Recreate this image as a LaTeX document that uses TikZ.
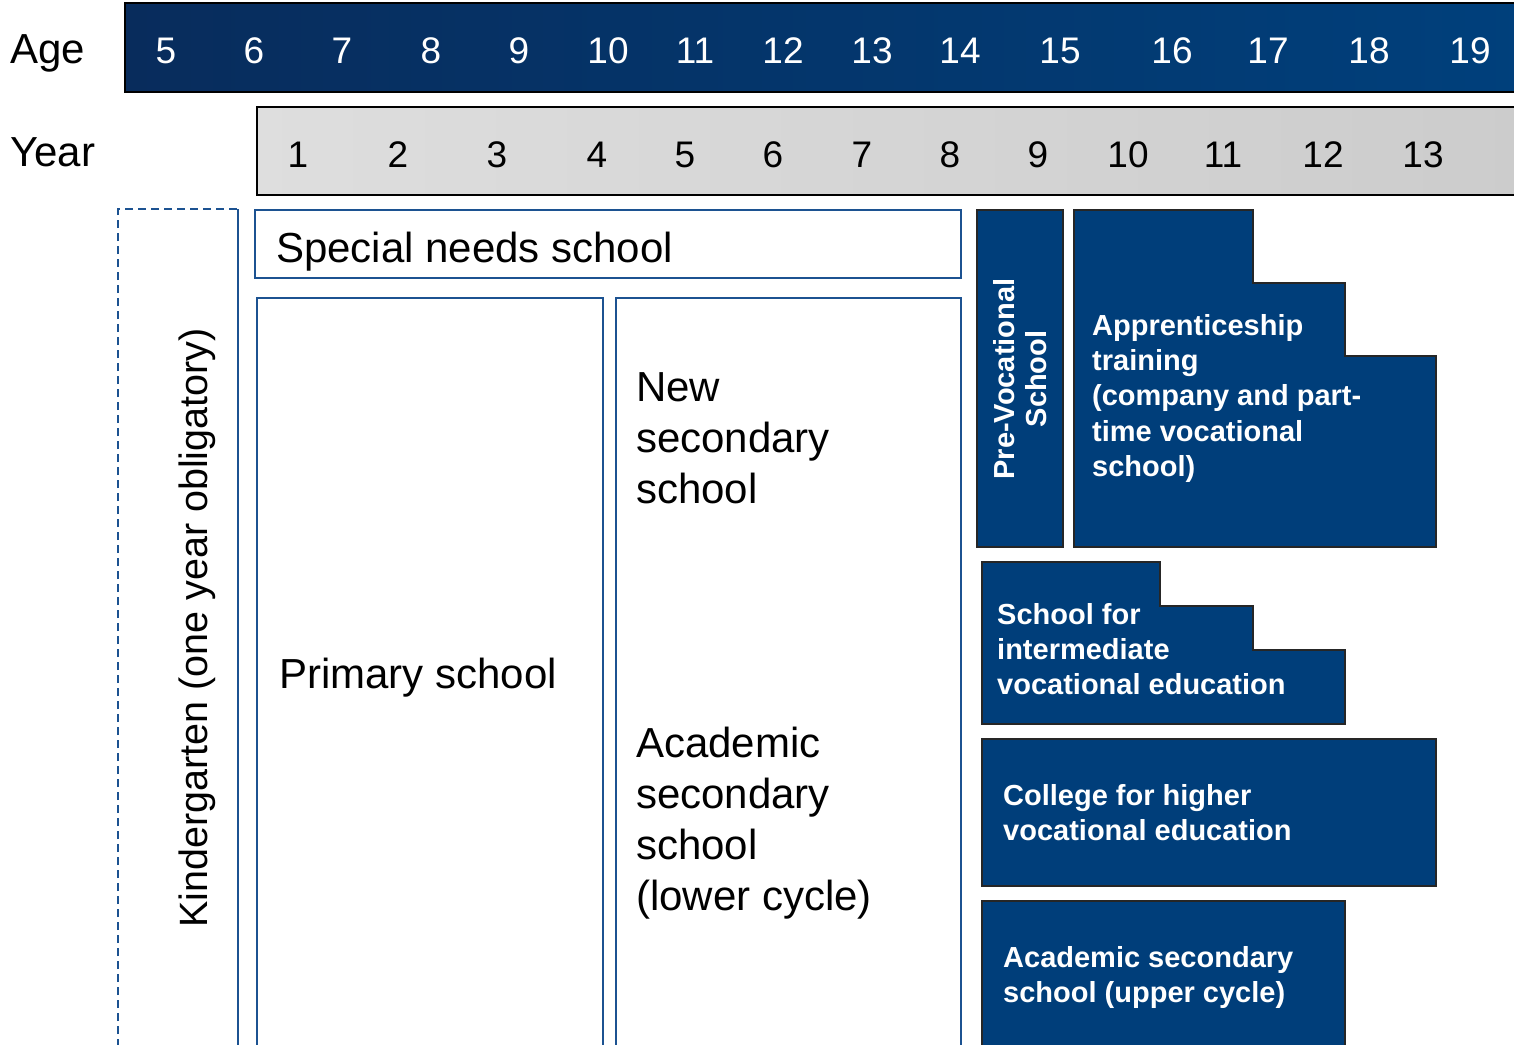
\documentclass[tikz,border=0pt]{standalone}
\usepackage{fontspec}
\setmainfont{Liberation Sans}
\usetikzlibrary{positioning}
\definecolor{navyL}{RGB}{8,44,92}
\definecolor{navyR}{RGB}{0,64,124}
\definecolor{schoolblue}{RGB}{0,62,122}
\definecolor{lineblue}{RGB}{28,82,145}

\begin{document}
\begin{tikzpicture}[x=1pt,y=-1pt]
\tikzset{agebar/.style={draw=black, line width=1.5pt, left color=navyL, right color=navyR},
		yearbar/.style={draw=black, line width=1.5pt, left color=black!13, right color=black!20},
		plain/.style={draw=lineblue, line width=1.6pt, fill=white},
		dark/.style={draw=black!85, line width=1.4pt, fill=schoolblue},
		head/.style={inner sep=0, font=\fontsize{42}{50}\selectfont},
		num/.style={inner sep=0, anchor=base, font=\fontsize{37}{44}\selectfont},
		big/.style={inner sep=0, anchor=north west, align=left, font=\fontsize{42}{51}\selectfont},
		small/.style={inner sep=0, anchor=north west, align=left, text=white, font=\bfseries\fontsize{29}{35.3}\selectfont}}
\useasboundingbox (0,0) rectangle (1514,1044);
% header bars
\draw[agebar] (125,3) rectangle (1530,92);
\draw[yearbar] (257,107) rectangle (1530,195);
\node[head, anchor=base west] (age) at (10,63) {Age};
\node[head, anchor=base west] (year) at (10,166) {Year};
\foreach \a/\x in {5/166,6/254,7/342,8/431,9/519,10/608,11/695,12/783,13/872,14/960,15/1060,16/1172,17/1268,18/1369,19/1470}
	\node[num, text=white] (age\a) at (\x,63) {\a};
\foreach \y/\x in {1/298,2/398,3/497,4/597,5/685,6/773,7/862,8/950,9/1038,10/1128,11/1223,12/1323,13/1423}
	\node[num] (year\y) at (\x,167) {\y};
% kindergarten
\draw[lineblue, line width=1.6pt, dash pattern=on 8pt off 5pt] (118,1060) |- (238,209);
\draw[lineblue, line width=1.6pt] (238,209) -- (238,1060);
\node[rotate=90, inner sep=0, font=\fontsize{39.5}{47}\selectfont] (kinder) at (197,628) {Kindergarten (one year obligatory)};
% white boxes
\draw[plain] (255,210) rectangle (961,278);
\draw[plain] (257,298) rectangle (603,1060);
\draw[plain] (616,298) rectangle (961,1060);
\node[head, anchor=base west] (special) at (276,262) {Special needs school};
\node[head, anchor=base west] (primary) at (279,688) {Primary school};
\node[big] (newsec) at (636,372) {New\\secondary\\school};
\node[big] (acalow) at (636,727) {Academic\\secondary\\school\\(lower cycle)};
% blue boxes
\draw[dark] (977,210) rectangle (1063,547);
\draw[dark] (1074,210) -| (1253,283) -| (1345,356) -| (1436,547) -- (1074,547) -- cycle;
\draw[dark] (982,562) -| (1160,606) -| (1253,650) -| (1345,724) -- (982,724) -- cycle;
\draw[dark] (982,739) rectangle (1436,886);
\draw[dark] (982,901) rectangle (1345,1060);
\node[rotate=90, align=center, text=white, inner sep=0, font=\bfseries\fontsize{29}{32}\selectfont] (prevoc) at (1020,379) {Pre-Vocational\\School};
\node[small] (appr) at (1092,314) {Apprenticeship\\training\\(company and part-\\time vocational\\school)};
\node[small] (inter) at (997,603) {School for\\intermediate\\vocational education};
\node[small] (college) at (1003,784) {College for higher\\vocational education};
\node[small] (acaup) at (1003,946) {Academic secondary\\school (upper cycle)};
\end{tikzpicture}
\end{document}
